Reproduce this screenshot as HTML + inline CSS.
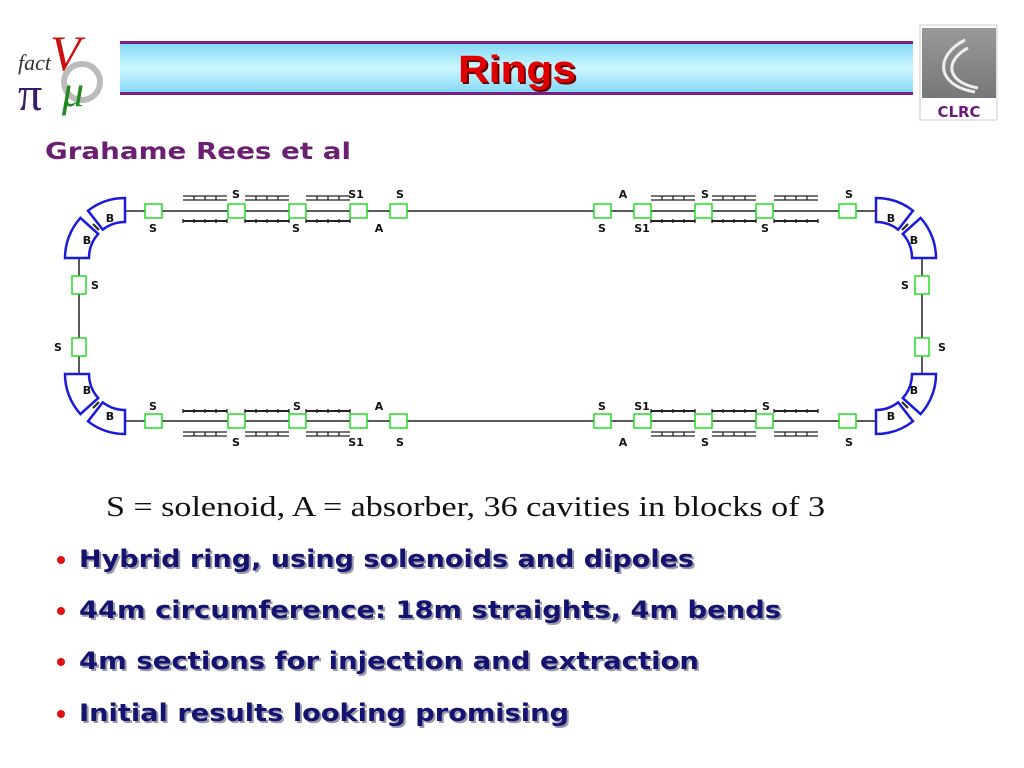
<!DOCTYPE html>
<html><head><meta charset="utf-8"><style>
html,body{margin:0;padding:0;background:#fff;width:1024px;height:768px;overflow:hidden}
</style></head><body>
<svg width="1024" height="768" viewBox="0 0 1024 768" xmlns="http://www.w3.org/2000/svg">
<defs>
<linearGradient id="bar" x1="0" y1="0" x2="0" y2="1">
<stop offset="0" stop-color="#7fd6f5"/><stop offset="0.5" stop-color="#ccf7ff"/><stop offset="1" stop-color="#7fd6f5"/>
</linearGradient>
<linearGradient id="logo" x1="0" y1="0" x2="0" y2="1">
<stop offset="0" stop-color="#999"/><stop offset="1" stop-color="#777"/>
</linearGradient>
<g id="box"><rect x="0" y="-7" width="17" height="14" fill="#fff" stroke="#22dd22" stroke-width="1.5"/></g>
<g id="cav" stroke="#222" stroke-width="1.3" fill="none">
<line x1="0" y1="-15" x2="44" y2="-15"/><line x1="0" y1="-11" x2="44" y2="-11"/>
<line x1="11" y1="-15" x2="11" y2="-11"/><line x1="22" y1="-15" x2="22" y2="-11"/><line x1="33" y1="-15" x2="33" y2="-11"/>
<line x1="0" y1="10" x2="44" y2="10" stroke-width="2"/>
<line x1="0" y1="8" x2="0" y2="12"/><line x1="11" y1="8" x2="11" y2="12"/><line x1="22" y1="8" x2="22" y2="12"/><line x1="33" y1="8" x2="33" y2="12"/><line x1="44" y1="8" x2="44" y2="12"/>
</g>
<g id="half">
<line x1="125" y1="211" x2="500.5" y2="211" stroke="#222" stroke-width="1.5"/>
<line x1="79" y1="258" x2="79" y2="316" stroke="#222" stroke-width="1.5"/>
<line x1="93" y1="224" x2="99" y2="230" stroke="#222" stroke-width="2"/>
<path d="M125,198 A60,60 0 0 0 88,210.7 L102.8,229.6 A36,36 0 0 1 125,222 Z" fill="#fff" stroke="#1a1adc" stroke-width="2.5"/>
<path d="M80.4,217.9 A60,60 0 0 0 65,258 L89,258 A36,36 0 0 1 98.2,233.9 Z" fill="#fff" stroke="#1a1adc" stroke-width="2.5"/>
<use href="#box" x="145" y="211"/>
<use href="#cav" x="183" y="211"/><use href="#cav" x="245" y="211"/><use href="#cav" x="306" y="211"/>
<use href="#box" x="228" y="211"/><use href="#box" x="289" y="211"/><use href="#box" x="350" y="211"/><use href="#box" x="390" y="211"/>
<rect x="72" y="276" width="14" height="18" fill="#fff" stroke="#22dd22" stroke-width="1.5"/>
</g>
</defs>
<!-- header -->
<rect x="120" y="42" width="793" height="52" fill="url(#bar)"/>
<rect x="120" y="41" width="793" height="3" fill="#7a1f8a"/>
<rect x="120" y="92" width="793" height="3" fill="#7a1f8a"/>
<text x="460" y="84" font-family="Liberation Sans,sans-serif" font-weight="bold" font-size="38" fill="#660000" textLength="118" lengthAdjust="spacingAndGlyphs">Rings</text>
<text x="458" y="82" font-family="Liberation Sans,sans-serif" font-weight="bold" font-size="38" fill="#e00000" textLength="118" lengthAdjust="spacingAndGlyphs">Rings</text>
<!-- factv logo -->
<text x="18" y="70" font-family="Liberation Serif,serif" font-style="italic" font-size="22" fill="#333">fact</text>
<text x="50" y="70" font-family="Liberation Serif,serif" font-style="italic" font-size="50" fill="#cc1111">V</text>
<circle cx="82" cy="82" r="18" fill="none" stroke="#bbb" stroke-width="6"/>
<text x="18" y="110" font-family="Liberation Serif,serif" font-size="48" fill="#3a1a6a">π</text>
<text x="62" y="106" font-family="Liberation Serif,serif" font-style="italic" font-size="44" fill="#228822">μ</text>
<!-- CLRC logo -->
<rect x="920" y="25" width="77" height="95" fill="#fff" stroke="#ccc"/>
<rect x="922" y="28" width="74" height="70" fill="url(#logo)"/>
<path d="M965,40 C935,55 935,85 975,92" fill="none" stroke="#eee" stroke-width="3"/>
<path d="M968,48 C945,60 945,82 978,88" fill="none" stroke="#eee" stroke-width="3"/>
<text x="959" y="117" font-family="DejaVu Sans,sans-serif" font-weight="bold" font-size="15" fill="#6a1a7a" text-anchor="middle">CLRC</text>
<!-- subtitle -->
<text x="45" y="159" font-family="DejaVu Sans,Liberation Sans,sans-serif" font-weight="bold" font-size="23" fill="#6b1f70" textLength="306" lengthAdjust="spacingAndGlyphs">Grahame Rees et al</text>
<!-- ring -->
<use href="#half"/>
<use href="#half" transform="translate(0,632) scale(1,-1)"/>
<use href="#half" transform="translate(1001,0) scale(-1,1)"/>
<use href="#half" transform="translate(1001,632) scale(-1,-1)"/>
<g font-family="DejaVu Sans,sans-serif" font-weight="bold" font-size="11" fill="#111" text-anchor="middle">
<text x="236" y="198">S</text><text x="356" y="198">S1</text><text x="400" y="198">S</text>
<text x="153" y="232">S</text><text x="296" y="232">S</text><text x="379" y="232">A</text>
<text x="623" y="198">A</text><text x="705" y="198">S</text><text x="849" y="198">S</text>
<text x="602" y="232">S</text><text x="642" y="232">S1</text><text x="765" y="232">S</text>
<text x="153" y="410">S</text><text x="297" y="410">S</text><text x="379" y="410">A</text>
<text x="236" y="446">S</text><text x="356" y="446">S1</text><text x="400" y="446">S</text>
<text x="602" y="410">S</text><text x="642" y="410">S1</text><text x="766" y="410">S</text>
<text x="623" y="446">A</text><text x="705" y="446">S</text><text x="849" y="446">S</text>
<text x="95" y="289">S</text><text x="58" y="351">S</text>
<text x="905" y="289">S</text><text x="942" y="351">S</text>
<text x="110" y="222">B</text><text x="87" y="244">B</text>
<text x="87" y="394">B</text><text x="110" y="420">B</text>
<text x="891" y="222">B</text><text x="914" y="244">B</text>
<text x="914" y="394">B</text><text x="891" y="420">B</text>
</g>
<!-- caption -->
<text x="106" y="516" font-family="Liberation Serif,serif" font-size="29" fill="#111" textLength="719" lengthAdjust="spacingAndGlyphs">S = solenoid, A = absorber, 36 cavities in blocks of 3</text>
<!-- bullets -->
<g font-family="DejaVu Sans,sans-serif" font-weight="bold" font-size="24">
<g fill="#9999aa">
<text x="81" y="569" textLength="615" lengthAdjust="spacingAndGlyphs">Hybrid ring, using solenoids and dipoles</text>
<text x="81" y="620" textLength="702" lengthAdjust="spacingAndGlyphs">44m circumference: 18m straights, 4m bends</text>
<text x="81" y="671" textLength="620" lengthAdjust="spacingAndGlyphs">4m sections for injection and extraction</text>
<text x="81" y="723" textLength="490" lengthAdjust="spacingAndGlyphs">Initial results looking promising</text>
</g>
<g fill="#141470">
<text x="79" y="567" textLength="615" lengthAdjust="spacingAndGlyphs">Hybrid ring, using solenoids and dipoles</text>
<text x="79" y="618" textLength="702" lengthAdjust="spacingAndGlyphs">44m circumference: 18m straights, 4m bends</text>
<text x="79" y="669" textLength="620" lengthAdjust="spacingAndGlyphs">4m sections for injection and extraction</text>
<text x="79" y="721" textLength="490" lengthAdjust="spacingAndGlyphs">Initial results looking promising</text>
</g>
</g>
<g fill="#dd1111"><circle cx="61" cy="560" r="4"/><circle cx="61" cy="611" r="4"/><circle cx="61" cy="662" r="4"/><circle cx="61" cy="714" r="4"/></g>
</svg>
</body></html>
